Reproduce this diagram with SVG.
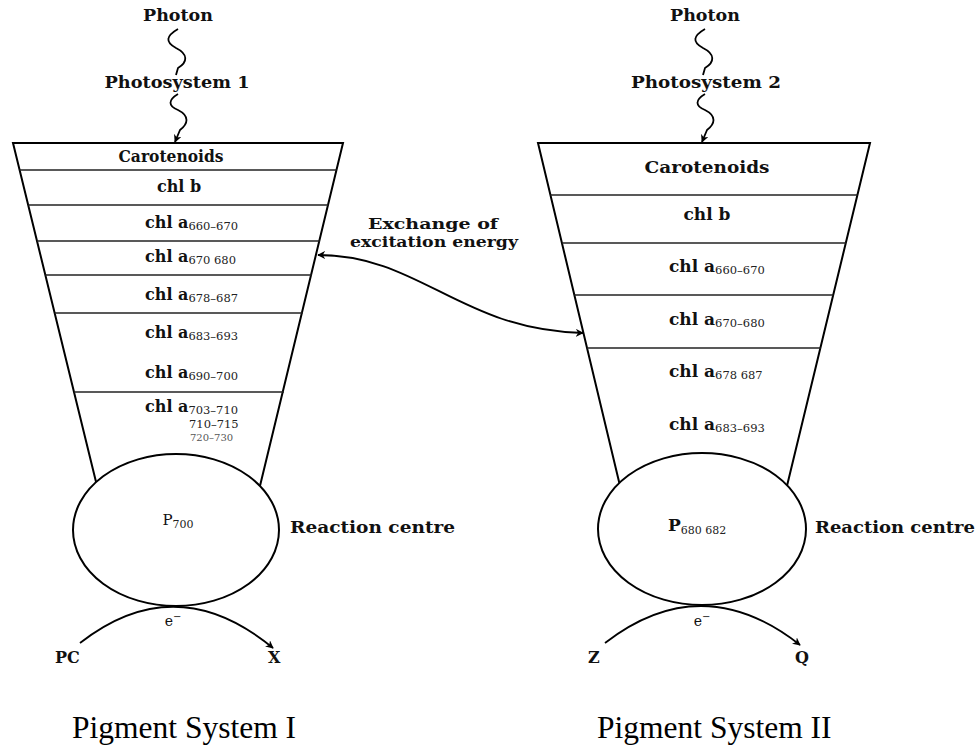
<svg xmlns="http://www.w3.org/2000/svg" width="978" height="747" viewBox="0 0 978 747">
<defs>
<marker id="ah" viewBox="0 0 10 10" refX="9" refY="5" markerWidth="8" markerHeight="8" orient="auto-start-reverse" markerUnits="userSpaceOnUse">
<path d="M0,0 L10,5 L0,10 L3,5 z" fill="#000"/>
</marker>
<style>
.lbl{font-family:"DejaVu Serif","Liberation Serif",serif;font-weight:bold;fill:#111;}
.l16{font-size:16px;}
.l17{font-size:17px;}
.sub{font-family:"DejaVu Serif","Liberation Serif",serif;font-weight:normal;font-size:11.5px;fill:#222;}
.title{font-family:"Liberation Serif","Times New Roman",serif;font-size:31.5px;fill:#000;}
.edge{stroke:#000;stroke-width:2;fill:none;}
.band{stroke:#222;stroke-width:1.6;fill:none;}
.circ{stroke:#000;stroke-width:2;fill:#fff;}
.wire{stroke:#000;stroke-width:1.8;fill:none;}
</style>
</defs>
<rect x="0" y="0" width="978" height="747" fill="#fff"/>

<g id="ps1-funnel">
<polygon class="edge" points="13,143 343,143 259,490 98,490"/>
<line class="band" x1="19.6" y1="170" x2="336.6" y2="170"/>
<line class="band" x1="28.2" y1="205" x2="328.3" y2="205"/>
<line class="band" x1="37" y1="241" x2="319.8" y2="241"/>
<line class="band" x1="45.3" y1="275" x2="311.7" y2="275"/>
<line class="band" x1="54.7" y1="313" x2="302.7" y2="313"/>
<line class="band" x1="74" y1="392" x2="284" y2="392"/>
<text class="lbl l16" x="171" y="162" text-anchor="middle" textLength="105" lengthAdjust="spacingAndGlyphs">Carotenoids</text>
<text class="lbl l16" x="179" y="192" text-anchor="middle">chl b</text>
<text class="lbl l16" x="145" y="228">chl a<tspan class="sub" dy="2">660–670</tspan></text>
<text class="lbl l16" x="145" y="262">chl a<tspan class="sub" dy="2">670  680</tspan></text>
<text class="lbl l16" x="145" y="300">chl a<tspan class="sub" dy="2">678–687</tspan></text>
<text class="lbl l16" x="145" y="338">chl a<tspan class="sub" dy="2">683–693</tspan></text>
<text class="lbl l16" x="145" y="378">chl a<tspan class="sub" dy="2">690–700</tspan></text>
<text class="lbl l16" x="145" y="412">chl a<tspan class="sub" dy="2">703–710</tspan></text>
<text class="sub" x="189" y="428">710–715</text>
<text class="sub" x="190" y="441" style="font-size:10px;fill:#555">720–730</text>
</g>

<g id="ps1-centre">
<ellipse class="circ" cx="176" cy="530" rx="103" ry="76"/>
<text class="lbl" x="178" y="525" text-anchor="middle" style="font-size:15px;font-weight:normal">P<tspan class="sub" style="font-size:11px" dy="3">700</tspan></text>
<text class="lbl l17" x="290" y="533" textLength="165" lengthAdjust="spacingAndGlyphs">Reaction centre</text>
</g>

<g id="ps1-top">
<text class="lbl l17" x="178" y="21" text-anchor="middle" textLength="70" lengthAdjust="spacingAndGlyphs">Photon</text>
<text class="lbl l17" x="177" y="88" text-anchor="middle" textLength="145" lengthAdjust="spacingAndGlyphs">Photosystem 1</text>
</g>

<g id="ps1-bottom">
<text class="lbl l16" x="55" y="663">PC</text>
<text class="lbl l16" x="268" y="663">X</text>
<text class="lbl" x="173" y="626" text-anchor="middle" style="font-size:14px;font-weight:normal">e<tspan dy="-6" style="font-size:10px">−</tspan></text>
</g>

<g id="ps2-funnel">
<polygon class="edge" points="538,143 870,143 786,490 621,490"/>
<line class="band" x1="550.4" y1="195" x2="857.5" y2="195"/>
<line class="band" x1="561.9" y1="243" x2="845.9" y2="243"/>
<line class="band" x1="574.3" y1="295" x2="833.4" y2="295"/>
<line class="band" x1="587" y1="348" x2="820.6" y2="348"/>
<text class="lbl l17" x="707" y="173" text-anchor="middle" textLength="125" lengthAdjust="spacingAndGlyphs">Carotenoids</text>
<text class="lbl l17" x="707" y="220" text-anchor="middle">chl b</text>
<text class="lbl l17" x="669" y="272">chl a<tspan class="sub" dy="2">660–670</tspan></text>
<text class="lbl l17" x="669" y="325">chl a<tspan class="sub" dy="2">670–680</tspan></text>
<text class="lbl l17" x="669" y="377">chl a<tspan class="sub" dy="2">678  687</tspan></text>
<text class="lbl l17" x="669" y="430">chl a<tspan class="sub" dy="2">683–693</tspan></text>
</g>

<g id="ps2-centre">
<ellipse class="circ" cx="702" cy="529" rx="104" ry="76"/>
<text class="lbl l17" x="668" y="531">P<tspan class="sub" style="font-size:11px" dy="3">680  682</tspan></text>
<text class="lbl l17" x="815" y="533" textLength="160" lengthAdjust="spacingAndGlyphs">Reaction centre</text>
</g>

<g id="ps2-top">
<text class="lbl l17" x="705" y="21" text-anchor="middle" textLength="70" lengthAdjust="spacingAndGlyphs">Photon</text>
<text class="lbl l17" x="706" y="88" text-anchor="middle" textLength="150" lengthAdjust="spacingAndGlyphs">Photosystem 2</text>
</g>

<g id="ps2-bottom">
<text class="lbl l16" x="588" y="663">Z</text>
<text class="lbl l16" x="795" y="663">Q</text>
<text class="lbl" x="702" y="626" text-anchor="middle" style="font-size:14px;font-weight:normal">e<tspan dy="-6" style="font-size:10px">−</tspan></text>
</g>

<g id="exchange-label">
<text class="lbl" x="433" y="229" text-anchor="middle" textLength="130" lengthAdjust="spacingAndGlyphs" style="font-size:14px">Exchange of</text>
<text class="lbl" x="434" y="247" text-anchor="middle" textLength="168" lengthAdjust="spacingAndGlyphs" style="font-size:14px">excitation energy</text>
</g>

<g id="titles">
<text class="title" x="72" y="738">Pigment System I</text>
<text class="title" x="597" y="738">Pigment System II</text>
</g>

<g id="connectors">
<path class="wire" d="M178,29 C166,36 165,42 176,48 C188,54 188,62 178,68 L176,75"/>
<path class="wire" d="M178,94 C168,100 168,106 178,110 C190,116 188,124 180,130 L175,142" marker-end="url(#ah)"/>
<path class="wire" d="M705,29 C693,36 692,42 703,48 C715,54 715,62 705,68 L703,75"/>
<path class="wire" d="M705,94 C695,100 695,106 705,110 C717,116 715,124 707,130 L702,142" marker-end="url(#ah)"/>
<path class="wire" d="M318,255 C420,255 460,330 583,333" marker-start="url(#ah)" marker-end="url(#ah)"/>
<path class="wire" d="M80,643 Q176,568 273,648" marker-end="url(#ah)"/>
<path class="wire" d="M605,643 Q702,568 800,645" marker-end="url(#ah)"/>
</g>
</svg>
